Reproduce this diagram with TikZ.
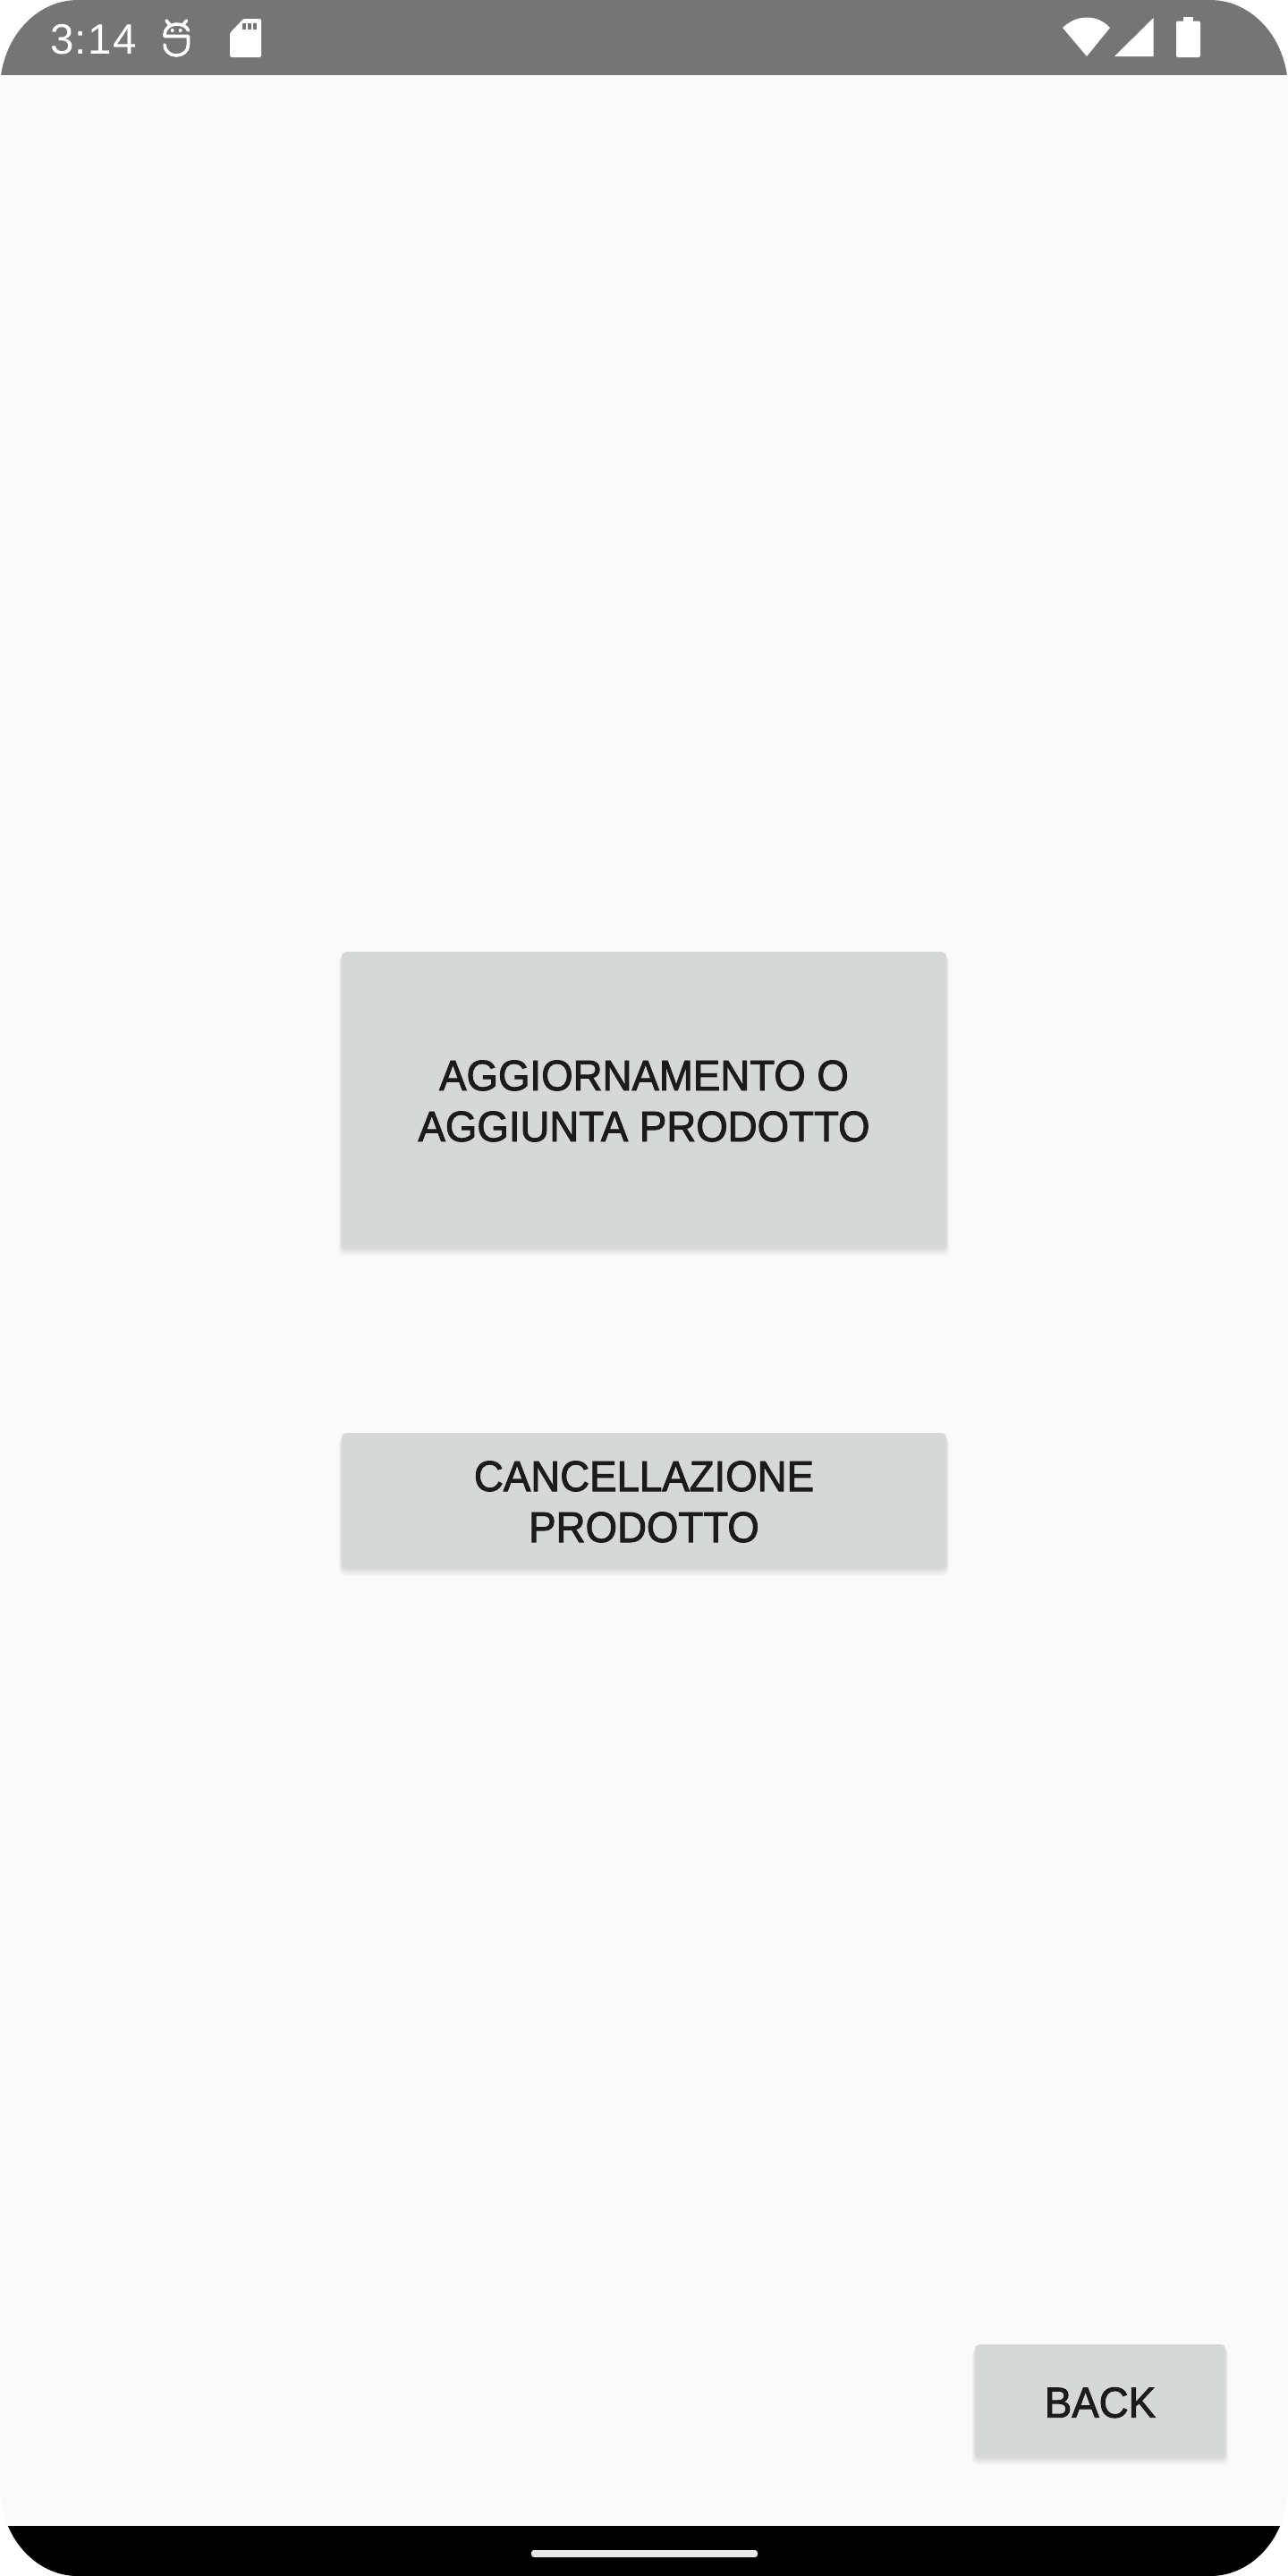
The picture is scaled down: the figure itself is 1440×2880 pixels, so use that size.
\documentclass[tikz,border=0pt]{standalone}
\usepackage{fontspec}
\setmainfont{Liberation Sans}
\definecolor{screenbg}{HTML}{FAFAFA}
\definecolor{statusbar}{HTML}{757575}
\definecolor{btnfill}{HTML}{D6D7D7}
\definecolor{btntext}{HTML}{1B1B1B}
\definecolor{handle}{HTML}{E8E8E8}
\tikzset{
  btnbox/.style={fill=btnfill, rounded corners=5pt, inner sep=0pt, align=center, text=btntext,
    font=\fontsize{48}{57}\selectfont\addfontfeatures{FakeStretch=0.95,FakeBold=2}},
  btnshade/.style={fill=black, rounded corners=6pt, opacity=0.016},
  icon/.style={fill=white, draw=none},
  robotline/.style={draw=white, line width=3.6pt, line cap=round, line join=round},
}
\newcommand{\shadowrect}[4]{%
  \foreach \d in {0,1,2,3,4,5,6,7,8,9}{
    \fill[btnshade] (#1-\d*0.45+1,#2+4) rectangle (#3+\d*0.45-1,#4-1+\d*1.1);
  }}
\newcommand{\btnlines}[2]{\raisebox{-46.5pt}[70pt][70pt]{\begin{tabular}[b]{@{}c@{}}#1\\#2\end{tabular}}}
\begin{document}
\begin{tikzpicture}[x=1pt,y=-1pt]
\useasboundingbox (0,0) rectangle (1440,2880);
\fill[white] (0,0) rectangle (1440,2880);
\begin{scope}
\clip (0,100) .. controls (0,44.8) and (39,0) .. (87,0)
  -- (1353,0) .. controls (1401,0) and (1440,44.8) .. (1440,100)
  -- (1440,2780) .. controls (1440,2835.2) and (1401,2880) .. (1353,2880)
  -- (87,2880) .. controls (39,2880) and (0,2835.2) .. (0,2780) -- cycle;
\fill[screenbg] (0,0) rectangle (1440,2880);
\fill[statusbar] (0,0) rectangle (1440,84);
\fill[black] (0,2824) rectangle (1440,2880);
\end{scope}
% navigation handle
\fill[handle, rounded corners=3pt] (594,2851) rectangle (847,2859);
% status bar: time
\node[anchor=base west, inner sep=0pt, text=white, font=\fontsize{47.5}{47.5}\selectfont\addfontfeatures{LetterSpace=3}] (time) at (56,60.5) {3:14};
% robot icon
\draw[robotline] (210.5,34) .. controls (209,30) and (204.5,27) .. (197.25,27)
  .. controls (190,27) and (184,32) .. (184,39) -- (184,40.5) -- (210.5,40.5) -- (210.5,50)
  .. controls (210.5,57) and (204.5,62) .. (197.25,62)
  .. controls (190,62) and (184,57) .. (184,50);
\draw[robotline] (186,23) -- (189.5,27.5);
\draw[robotline] (208.5,23) -- (205,27.5);
\fill[white] (192.7,34) circle (2);
\fill[white] (201.7,34) circle (2);
% SD card icon
\fill[icon, rounded corners=1.5pt] (257,37) -- (272,21) -- (292,21) -- (292,64) -- (257,64) -- cycle;
\fill[statusbar] (270.5,25.5) rectangle (274.5,33);
\fill[statusbar] (276.5,25.5) rectangle (280.5,33);
\fill[statusbar] (282.5,25.5) rectangle (287,33);
% wifi
\fill[icon] (1215,63) -- (1188,31) .. controls (1196,23.5) and (1205,19.5) .. (1215,19.5)
  .. controls (1225,19.5) and (1234,23.5) .. (1241,31) -- cycle;
% signal
\fill[icon] (1246,63) -- (1289.5,20) -- (1289.5,63) -- cycle;
% battery
\fill[icon, rounded corners=2pt] (1315,23.5) rectangle (1342,64);
\fill[icon] (1323,19) rectangle (1334,25);
% buttons
\shadowrect{382}{1064}{1058}{1395}
\node[btnbox, minimum width=676pt, minimum height=331pt] (update) at (720,1229.5)
  {\btnlines{AGGIORNAMENTO O}{AGGIUNTA PRODOTTO}};
\shadowrect{382}{1602}{1058}{1753}
\node[btnbox, minimum width=676pt, minimum height=151pt] (delete) at (720,1677.5)
  {\btnlines{CANCELLAZIONE}{PRODOTTO}};
\shadowrect{1090}{2621}{1370}{2747}
\node[btnbox, minimum width=280pt, minimum height=126pt] (back) at (1230,2684) {\raisebox{-18.7pt}[40pt][40pt]{BACK}};
\end{tikzpicture}
\end{document}
